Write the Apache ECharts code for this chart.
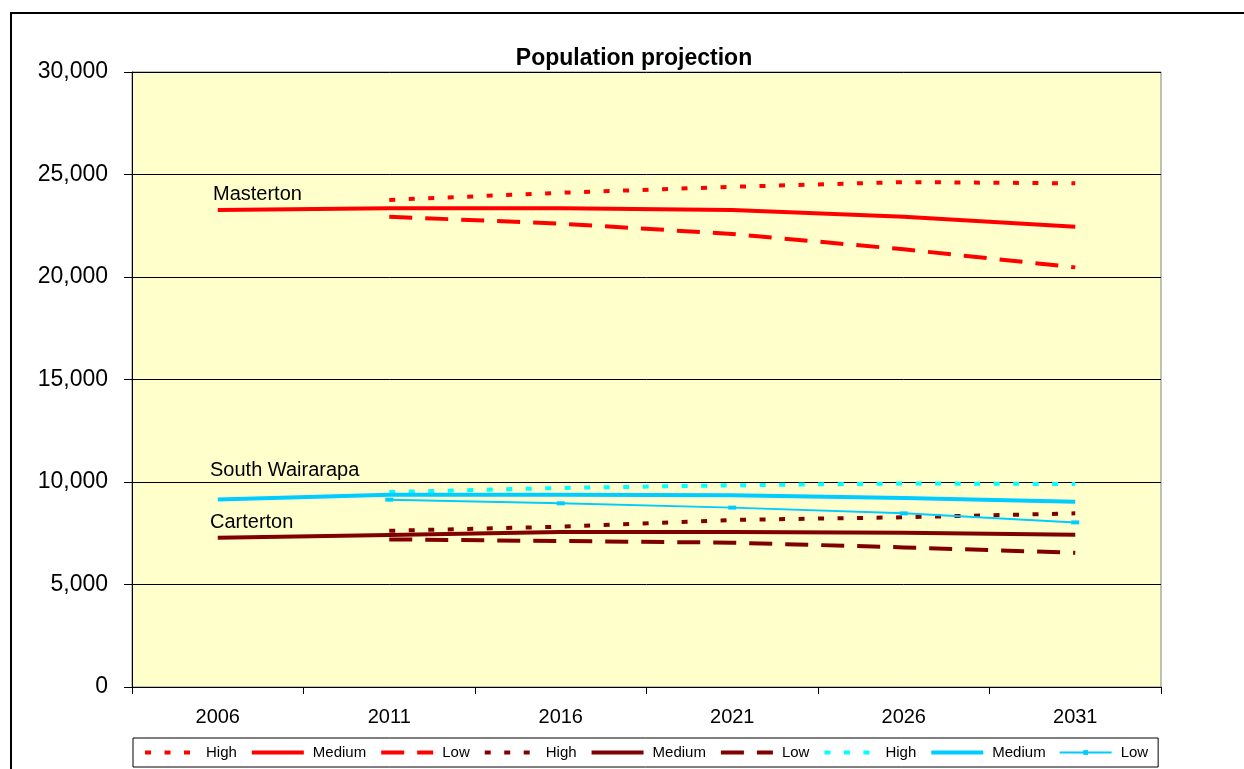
<!DOCTYPE html>
<html>
<head>
<meta charset="utf-8">
<script src="https://cdn.jsdelivr.net/npm/echarts@6/dist/echarts.min.js"></script>
<style>
html,body{margin:0;padding:0;background:#fff;}
#chart{width:1244px;height:769px;}
</style>
</head>
<body>
<div id="chart"></div>
<script>
const years = ['2006', '2011', '2016', '2021', '2026', '2031'];
const yTicks = [0, 5000, 10000, 15000, 20000, 25000, 30000];

const mastertonHigh   = [null, 23760, 24110, 24400, 24630, 24570];
const mastertonMedium = [23270, 23350, 23350, 23270, 22940, 22450];
const mastertonLow    = [null, 22940, 22600, 22100, 21350, 20470];

const cartertonHigh   = [null, 7620, 7820, 8150, 8280, 8470];
const cartertonMedium = [7280, 7420, 7560, 7560, 7520, 7430];
const cartertonLow    = [null, 7200, 7120, 7040, 6810, 6550];

const swHigh   = [null, 9510, 9710, 9840, 9930, 9900];
const swMedium = [9150, 9380, 9380, 9350, 9220, 9040];
const swLow    = [null, 9140, 8960, 8750, 8470, 8030];

const districtLabels = ['Masterton', 'South Wairarapa', 'Carterton'];

const FONT = '"Liberation Sans", Arial, sans-serif';
const RED = '#FF0000', DARK = '#800000', CYAN_H = '#00FFFF', CYAN = '#00CCFF';
const DOT = [6, 13.5], DASH = [23, 13];

function line(name, data, color, type, width, opts) {
  return Object.assign({
    name: name,
    type: 'line',
    data: data,
    symbol: 'none',
    connectNulls: false,
    animation: false,
    z: 3,
    lineStyle: { color: color, width: width, type: type, cap: 'butt' },
    itemStyle: { color: color }
  }, opts || {});
}

const series = [
  line('Masterton High', mastertonHigh, RED, DOT, 4),
  line('Masterton Medium', mastertonMedium, RED, 'solid', 4),
  line('Masterton Low', mastertonLow, RED, DASH, 4),
  line('Carterton High', cartertonHigh, DARK, DOT, 4),
  line('Carterton Medium', cartertonMedium, DARK, 'solid', 4),
  line('Carterton Low', cartertonLow, DARK, DASH, 4),
  line('South Wairarapa High', swHigh, CYAN_H, DOT, 4),
  line('South Wairarapa Medium', swMedium, CYAN, 'solid', 4),
  line('South Wairarapa Low', swLow, CYAN, 'solid', 2, {
    symbol: 'rect', symbolSize: [8, 4], showSymbol: true
  })
];

const legendData = series.map(s => {
  const item = {
    name: s.name,
    lineStyle: { color: s.lineStyle.color, width: s.lineStyle.width, type: s.lineStyle.type, cap: 'butt' }
  };
  if (s.symbol === 'none') item.itemStyle = { color: 'rgba(0,0,0,0)', borderWidth: 0 };
  return item;
});

const chart = echarts.init(document.getElementById('chart'), null, { renderer: 'canvas' });

chart.setOption({
  backgroundColor: '#ffffff',
  animation: false,
  textStyle: { fontFamily: FONT },
  title: {
    text: 'Population projection',
    left: 629, top: 42, textAlign: 'center',
    textStyle: { fontFamily: FONT, fontSize: 23, fontWeight: 'bold', color: '#000' }
  },
  grid: {
    left: 132, right: 83, top: 72, bottom: 82,
    show: true, backgroundColor: '#FFFFCC', borderColor: '#808080', borderWidth: 1
  },
  legend: {
    left: 133, top: 738,
    padding: [7, 10, 7, 10],
    itemWidth: 52, itemHeight: 6, itemGap: 13,
    backgroundColor: '#ffffff', borderColor: '#000', borderWidth: 1,
    textStyle: { fontFamily: FONT, fontSize: 15, color: '#000', padding: [0, 0, 0, 4] },
    formatter: function (n) { return n.split(' ').pop(); },
    data: legendData
  },
  xAxis: {
    type: 'category',
    data: years,
    boundaryGap: true,
    axisLine: { lineStyle: { color: '#000', width: 1 } },
    axisTick: { show: true, length: 7, lineStyle: { color: '#000' } },
    axisLabel: { fontFamily: FONT, fontSize: 20, color: '#000', margin: 20 },
    splitLine: { show: false }
  },
  yAxis: {
    type: 'value',
    min: yTicks[0], max: yTicks[yTicks.length - 1], interval: 5000,
    axisLine: { show: true, lineStyle: { color: '#000', width: 1 } },
    axisTick: { show: true, length: 8, lineStyle: { color: '#000' } },
    axisLabel: {
      fontFamily: FONT, fontSize: 23, color: '#000', margin: 24,
      formatter: v => v.toLocaleString('en-US')
    },
    splitLine: { show: true, lineStyle: { color: '#000', width: 1 } }
  },
  series: series,
  graphic: [
    { type: 'rect', shape: { x: 11, y: 13, width: 1400, height: 900 },
      style: { fill: null, stroke: '#000', lineWidth: 2 }, silent: true, z: 100 },
    { type: 'text', left: 213, top: 184, z: 50,
      style: { text: districtLabels[0], fontFamily: FONT, fontSize: 20, fill: '#000' } },
    { type: 'text', left: 210, top: 460, z: 50,
      style: { text: districtLabels[1], fontFamily: FONT, fontSize: 20, fill: '#000' } },
    { type: 'text', left: 210, top: 512, z: 50,
      style: { text: districtLabels[2], fontFamily: FONT, fontSize: 20, fill: '#000' } }
  ]
});
</script>
</body>
</html>
